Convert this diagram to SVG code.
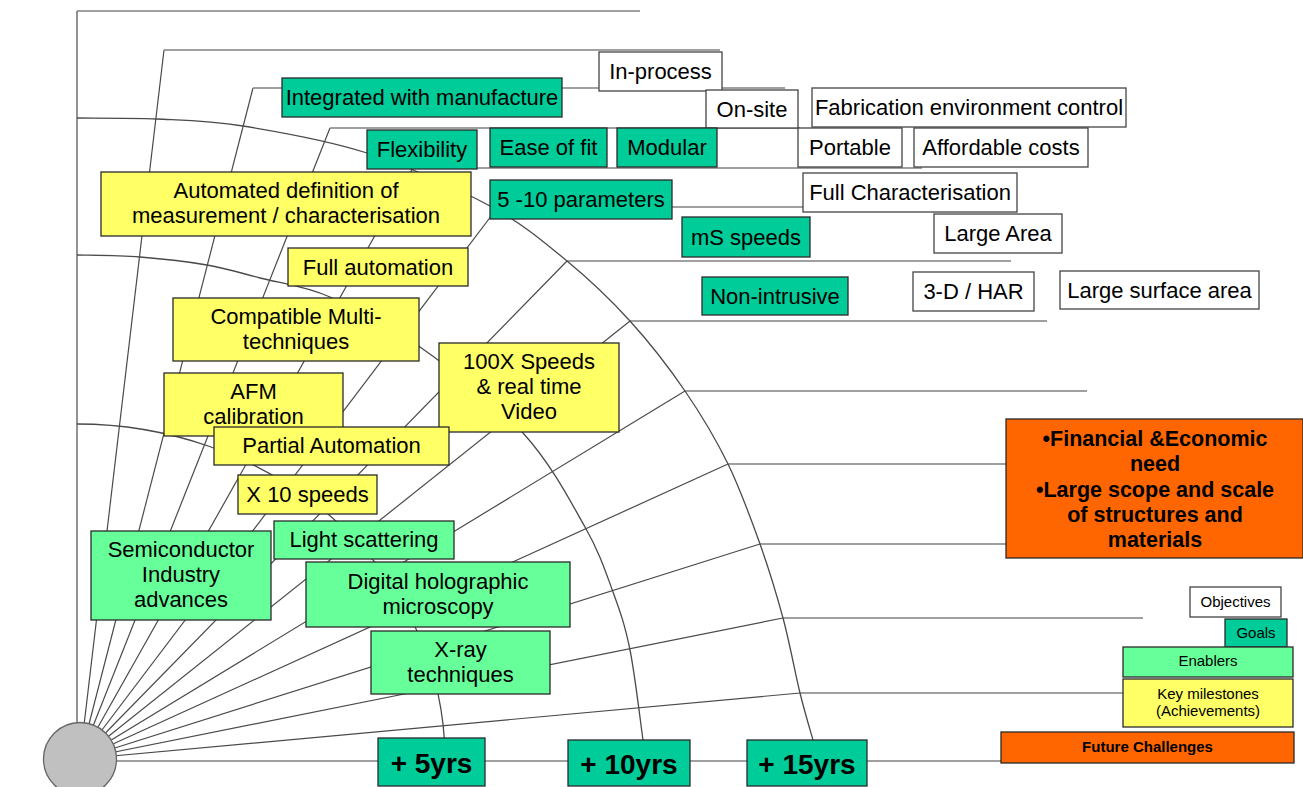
<svg xmlns="http://www.w3.org/2000/svg" width="1303" height="787" viewBox="0 0 1303 787">
<style>
.sp{fill:none;stroke:#4a4a4a;stroke-width:1.2}
.hz{fill:none;stroke:#808080;stroke-width:1.5}
.arc{fill:none;stroke:#4a4a4a;stroke-width:1.3}
.box{stroke:#2a2a2a;stroke-width:1.3}
.teal{fill:#00CC99}
.yel{fill:#FFFF66}
.grn{fill:#66FF99}
.wht{fill:#FFFFFF;stroke:#444}
.org{fill:#FF6600}
text{font-family:"Liberation Sans",Arial,sans-serif;fill:#000;text-anchor:middle}
.t{font-size:22px}
.yr{font-size:28px;font-weight:bold}
.ob{font-size:21.5px;font-weight:bold}
.lg{font-size:15px}
.lgb{font-size:15px;font-weight:bold}
</style>
<rect width="1303" height="787" fill="#fff"/>
<g id="connectors">
  <polyline class="sp" points="77,722 77,11"/>
  <line class="hz" x1="77" y1="11" x2="640" y2="11"/>
  <line class="sp" x1="80" y1="759" x2="164" y2="50"/>
  <line class="sp" x1="80" y1="759" x2="253" y2="88"/>
  <line class="sp" x1="80" y1="759" x2="330" y2="128"/>
  <line class="sp" x1="80" y1="759" x2="413" y2="168"/>
  <line class="sp" x1="80" y1="759" x2="498" y2="207"/>
  <line class="sp" x1="80" y1="759" x2="567" y2="261"/>
  <line class="sp" x1="80" y1="759" x2="630" y2="321"/>
  <line class="sp" x1="80" y1="759" x2="685" y2="391"/>
  <line class="sp" x1="80" y1="759" x2="728" y2="464"/>
  <line class="sp" x1="80" y1="759" x2="760" y2="544"/>
  <line class="sp" x1="80" y1="759" x2="783" y2="618"/>
  <line class="sp" x1="80" y1="759" x2="800" y2="693"/>
  <line class="hz" x1="164" y1="50" x2="720" y2="50"/>
  <line class="hz" x1="253" y1="88" x2="785" y2="88"/>
  <line class="hz" x1="330" y1="128" x2="800" y2="128"/>
  <line class="hz" x1="413" y1="168" x2="922" y2="168"/>
  <line class="hz" x1="498" y1="207" x2="972" y2="207"/>
  <line class="hz" x1="567" y1="261" x2="1011" y2="261"/>
  <line class="hz" x1="630" y1="321" x2="1047" y2="321"/>
  <line class="hz" x1="685" y1="391" x2="1087" y2="391"/>
  <line class="hz" x1="728" y1="464" x2="1006" y2="464"/>
  <line class="hz" x1="760" y1="544" x2="1006" y2="544"/>
  <line class="hz" x1="783" y1="618" x2="1143" y2="618"/>
  <line class="hz" x1="800" y1="693" x2="1123" y2="693"/>
  <line class="hz" x1="80" y1="761" x2="1001" y2="761"/>
  <path class="arc" d="M77,424 A368,335 0 0,1 444.4,740"/>
  <path class="arc" d="M77,255 C87.5,255.3 118.3,255.3 140,257 C161.7,258.7 187,261.5 207,265 C227,268.5 239.5,272.7 260,278 C280.5,283.3 303.3,285.5 330,297 C356.7,308.5 387.8,324.3 420,347 C452.2,369.7 495.5,403 523,433 C550.5,463 570,500.5 585,527 C600,553.5 605.5,571.5 613,592 C620.5,612.5 625,625.3 630,650 C635,674.7 640.8,725 643,740"/>
  <path class="arc" d="M77,118 C90.3,118.2 129.3,117.7 157,119 C184.7,120.3 208,120.3 243,126 C278,131.7 325.8,139.7 367,153 C408.2,166.3 456.7,188 490,206 C523.3,224 543.7,241.8 567,261 C590.3,280.2 610.3,299.3 630,321 C649.7,342.7 668.7,367.2 685,391 C701.3,414.8 715.5,438.5 728,464 C740.5,489.5 750.8,518.3 760,544 C769.2,569.7 776.3,593.2 783,618 C789.7,642.8 795,672.7 800,693 C805,713.3 810.8,732.2 813,740"/>
</g>
<g id="hub"><circle cx="80" cy="759" r="36.5" fill="#C0C0C0" stroke="#666" stroke-width="1.3"/></g>

<g id="in-process"><rect class="box wht" x="599" y="52" width="123" height="39"/><text class="t" x="660.5" y="79">In-process</text></g>
<g id="integrated"><rect class="box teal" x="282" y="78" width="280" height="39"/><text class="t" x="422" y="105">Integrated with manufacture</text></g>
<g id="on-site"><rect class="box wht" x="706" y="90" width="92" height="38"/><text class="t" x="752" y="117">On-site</text></g>
<g id="fabrication"><rect class="box wht" x="812" y="88" width="314" height="39"/><text class="t" x="969" y="115">Fabrication environment control</text></g>
<g id="flexibility"><rect class="box teal" x="367" y="130" width="110" height="39"/><text class="t" x="422" y="157">Flexibility</text></g>
<g id="ease-of-fit"><rect class="box teal" x="490" y="128" width="117" height="39"/><text class="t" x="548.5" y="155">Ease of fit</text></g>
<g id="modular"><rect class="box teal" x="617" y="128" width="100" height="39"/><text class="t" x="667" y="155">Modular</text></g>
<g id="portable"><rect class="box wht" x="798" y="128" width="104" height="39"/><text class="t" x="850" y="155">Portable</text></g>
<g id="affordable"><rect class="box wht" x="914" y="128" width="174" height="39"/><text class="t" x="1001" y="155">Affordable costs</text></g>
<g id="automated-definition"><rect class="box yel" x="101" y="172" width="370" height="64"/><text class="t" x="286" y="198">Automated definition of</text><text class="t" x="286" y="223">measurement / characterisation</text></g>
<g id="parameters"><rect class="box teal" x="490" y="180" width="182" height="39"/><text class="t" x="581" y="207">5 -10 parameters</text></g>
<g id="full-characterisation"><rect class="box wht" x="803" y="173" width="214" height="39"/><text class="t" x="910" y="200">Full Characterisation</text></g>
<g id="ms-speeds"><rect class="box teal" x="682" y="217" width="128" height="40"/><text class="t" x="746" y="245">mS speeds</text></g>
<g id="large-area"><rect class="box wht" x="934" y="214" width="128" height="39"/><text class="t" x="998" y="241">Large Area</text></g>
<g id="full-automation"><rect class="box yel" x="288" y="248" width="180" height="38"/><text class="t" x="378" y="275">Full automation</text></g>
<g id="non-intrusive"><rect class="box teal" x="702" y="277" width="146" height="38"/><text class="t" x="775" y="304">Non-intrusive</text></g>
<g id="3d-har"><rect class="box wht" x="913" y="272" width="121" height="39"/><text class="t" x="973.5" y="299">3-D / HAR</text></g>
<g id="large-surface"><rect class="box wht" x="1060" y="271" width="199" height="38"/><text class="t" x="1159.5" y="298">Large surface area</text></g>
<g id="compatible"><rect class="box yel" x="173" y="298" width="246" height="63"/><text class="t" x="296" y="324">Compatible Multi-</text><text class="t" x="296" y="349">techniques</text></g>
<g id="afm"><rect class="box yel" x="164" y="373" width="179" height="63"/><text class="t" x="253.5" y="399">AFM</text><text class="t" x="253.5" y="424">calibration</text></g>
<g id="speeds-100x"><rect class="box yel" x="439" y="343" width="180" height="89"/><text class="t" x="529" y="369">100X Speeds</text><text class="t" x="529" y="394">&amp; real time</text><text class="t" x="529" y="419">Video</text></g>
<g id="partial-automation"><rect class="box yel" x="214" y="427" width="235" height="38"/><text class="t" x="331.5" y="453">Partial Automation</text></g>
<g id="x10-speeds"><rect class="box yel" x="238" y="475" width="139" height="39"/><text class="t" x="307.5" y="502">X 10 speeds</text></g>
<g id="light-scattering"><rect class="box grn" x="274" y="521" width="180" height="38"/><text class="t" x="364" y="547">Light scattering</text></g>
<g id="semiconductor"><rect class="box grn" x="91" y="531" width="180" height="89"/><text class="t" x="181" y="557">Semiconductor</text><text class="t" x="181" y="582">Industry</text><text class="t" x="181" y="607">advances</text></g>
<g id="holographic"><rect class="box grn" x="306" y="562" width="264" height="65"/><text class="t" x="438" y="589">Digital holographic</text><text class="t" x="438" y="614">microscopy</text></g>
<g id="x-ray"><rect class="box grn" x="371" y="631" width="179" height="63"/><text class="t" x="460.5" y="657">X-ray</text><text class="t" x="460.5" y="682">techniques</text></g>
<g id="yrs5"><rect class="box teal" x="378" y="738" width="107" height="48"/><text class="yr" x="431.5" y="773">+ 5yrs</text></g>
<g id="yrs10"><rect class="box teal" x="568" y="740" width="122" height="46"/><text class="yr" x="629" y="774">+ 10yrs</text></g>
<g id="yrs15"><rect class="box teal" x="747" y="740" width="120" height="46"/><text class="yr" x="807" y="774">+ 15yrs</text></g>
<g id="challenges"><rect class="box org" x="1006" y="419" width="297" height="139"/><text class="ob" x="1155" y="446">•Financial &amp;Economic</text><text class="ob" x="1155" y="471">need</text><text class="ob" x="1155" y="497">•Large scope and scale</text><text class="ob" x="1155" y="522">of structures and</text><text class="ob" x="1155" y="547">materials</text></g>
<g id="legend-objectives"><rect class="box wht" x="1190" y="587" width="91" height="30"/><text class="lg" x="1235.5" y="607">Objectives</text></g>
<g id="legend-goals"><rect class="box teal" x="1225" y="619" width="62" height="28"/><text class="lg" x="1256" y="638">Goals</text></g>
<g id="legend-enablers"><rect class="box grn" x="1123" y="647" width="170" height="30"/><text class="lg" x="1208" y="666">Enablers</text></g>
<g id="legend-milestones"><rect class="box yel" x="1123" y="679" width="170" height="48"/><text class="lg" x="1208" y="699">Key milestones</text><text class="lg" x="1208" y="716">(Achievements)</text></g>
<g id="legend-future"><rect class="box org" x="1001" y="732" width="293" height="31"/><text class="lgb" x="1147.5" y="752">Future Challenges</text></g>
</svg>
